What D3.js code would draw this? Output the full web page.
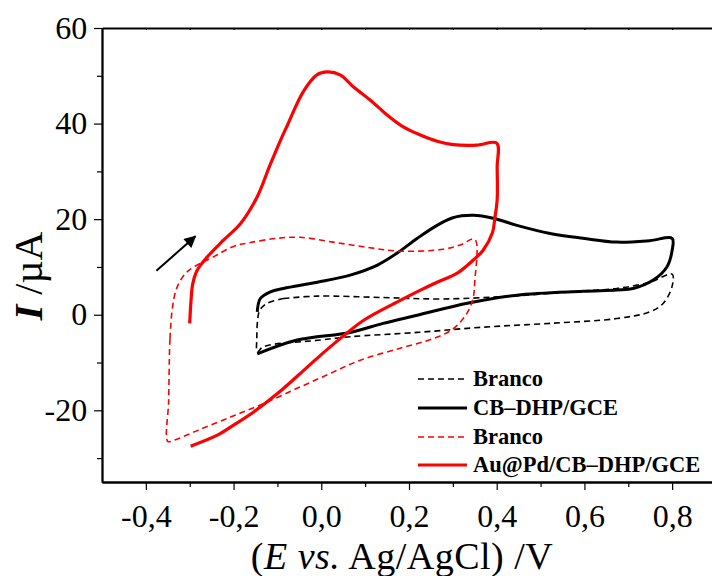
<!DOCTYPE html>
<html>
<head>
<meta charset="utf-8">
<script src="https://cdn.jsdelivr.net/npm/d3@7"></script>
<style>
  body { margin: 0; background: #fff; }
  svg { display: block; }
  text { font-family: "Liberation Serif", "Times New Roman", serif; }
</style>
</head>
<body>
<script>
// Dados (E em V, I em µA)
const brancoCB = [[-0.086,3.4],[-0.009,3.9],[0.141,3.6],[0.278,3.3],[0.45,4.0],[0.60,5.0],[0.674,5.5],[0.749,6.8],[0.80,8.5],
  [0.80,6.0],[0.78,2.4],[0.749,0.6],[0.674,-0.8],[0.522,-1.8],[0.369,-2.6],[0.219,-3.7],[0.066,-4.6],[-0.002,-5.3],
  [-0.132,-6.7],[-0.146,-7.8],[-0.147,-5],[-0.145,-1],[-0.14,1],[-0.123,2.4],[-0.086,3.4]];

const cbDHP = [[-0.146,0.6],[-0.139,3.4],[-0.116,4.8],[-0.086,5.5],[-0.009,6.8],[0.066,8.3],[0.128,10.4],[0.173,12.9],
  [0.219,16.0],[0.264,18.7],[0.30,20.3],[0.346,20.8],[0.392,20.2],[0.446,18.7],[0.522,17.0],[0.597,16.0],[0.674,15.2],[0.749,15.5],[0.80,16.0],
  [0.80,13.5],[0.788,10.0],[0.756,7.2],[0.711,5.5],[0.674,5.2],[0.597,4.9],[0.446,4.1],[0.333,2.4],[0.219,-0.1],
  [0.141,-1.8],[0.066,-3.7],[-0.055,-5.3],[-0.146,-8.2]];

const brancoAuPd = [[-0.345,-5],[-0.34,1],[-0.33,5.5],[-0.31,8.6],[-0.29,10],[-0.246,12.1],[-0.2,14.3],[-0.162,15.1],
  [-0.1,16],[-0.048,16.2],[0.027,15.2],[0.105,14.1],[0.18,13.3],[0.278,13.7],[0.317,14.6],[0.35,15.8],
  [0.35,7],[0.345,3],[0.33,0],[0.30,-3],[0.255,-5],[0.18,-7],[0.089,-9.5],[0.02,-12.3],[-0.055,-15.4],[-0.132,-18.6],
  [-0.207,-21.4],[-0.282,-24.2],[-0.337,-26.3],[-0.35,-26.5],[-0.348,-18],[-0.346,-7.4],[-0.345,-5]];

const auPd = [[-0.30,-1.8],[-0.297,3],[-0.293,6.5],[-0.283,9.3],[-0.26,12.1],[-0.223,15.6],[-0.184,19.1],[-0.146,24.7],
  [-0.117,31.3],[-0.093,36.5],[-0.078,39.5],[-0.041,46.7],[-0.01,50.2],[0.013,50.8],[0.043,50.2],[0.073,47.7],
  [0.112,44.9],[0.15,41.8],[0.187,39.3],[0.226,37.6],[0.264,36.3],[0.301,35.6],[0.355,35.5],[0.40,35.9],
  [0.401,30.9],[0.401,24],[0.396,20.4],[0.39,17.1],[0.369,13.5],[0.346,11.4],[0.31,8.7],[0.264,6.8],[0.225,5.1],
  [0.18,3.0],[0.096,-1.2],[0.043,-5],[-0.002,-8.5],[-0.048,-12.3],[-0.1,-16.5],[-0.155,-20.4],[-0.2,-23.1],
  [-0.237,-25.2],[-0.298,-27.5]];

const xTicks = [-0.4,-0.2,0.0,0.2,0.4,0.6,0.8];
const yTicks = [-20,0,20,40,60];
const legendNames = ["Branco","CB\u2013DHP/GCE","Branco","Au@Pd/CB\u2013DHP/GCE"];
const arrowPts = [[-0.376,9.2],[-0.287,16.4]];

const WIDTH = 712, HEIGHT = 576;
const L = 102, T = 28, R = 716, B = 482;

const svg = d3.select('body').append('svg')
  .attr('width', WIDTH).attr('height', HEIGHT);

const x = d3.scaleLinear().domain([-0.5, 0.9]).range([L, R]);
const y = d3.scaleLinear().domain([-35, 60]).range([B, T]);

const fmt = d => d3.format('.1f')(d).replace('.', ',').replace('\u2212', '-');

// eixos
const xAx = svg.append('g').attr('transform', `translate(0,${B})`)
  .call(d3.axisBottom(x).tickValues(xTicks).tickFormat(fmt).tickSize(8).tickSizeOuter(0));
const xMinor = svg.append('g').attr('transform', `translate(0,${B})`)
  .call(d3.axisBottom(x).tickValues(d3.range(-0.3, 0.9, 0.2)).tickFormat('').tickSize(5).tickSizeOuter(0));
const yAx = svg.append('g').attr('transform', `translate(${L},0)`)
  .call(d3.axisLeft(y).tickValues(yTicks).tickFormat(d => String(d)).tickSize(8).tickSizeOuter(0));
const yMinor = svg.append('g').attr('transform', `translate(${L},0)`)
  .call(d3.axisLeft(y).tickValues([-30,-10,10,30,50]).tickFormat('').tickSize(5).tickSizeOuter(0));
const xTop = svg.append('g').attr('transform', `translate(0,${T})`)
  .call(d3.axisTop(x).tickValues(d3.range(-0.4, 0.85, 0.1)).tickFormat('').tickSize(-2).tickSizeOuter(0));

[xAx, xMinor, yAx, yMinor, xTop].forEach(g => {
  g.attr('font-family', null);
  g.selectAll('.domain').attr('stroke', '#000').attr('stroke-width', 1.8);
  g.selectAll('.tick line').attr('stroke', '#000').attr('stroke-width', 1.2);
});
xAx.selectAll('text').attr('font-size', 32).attr('fill', '#000').attr('dy', '1.05em');
yAx.selectAll('text').attr('font-size', 32).attr('fill', '#000').attr('dx', '-0.12em');

// curvas
const line = d3.line().x(d => x(d[0])).y(d => y(d[1])).curve(d3.curveCatmullRom.alpha(0.5));
const series = [
  { data: brancoCB, color: '#000', w: 1.6, dash: '6,4' },
  { data: cbDHP, color: '#000', w: 3, dash: null },
  { data: brancoAuPd, color: '#ff0000', w: 1.6, dash: '6,4' },
  { data: auPd, color: '#ff0000', w: 3.2, dash: null }
];
svg.append('g').selectAll('path').data(series).join('path')
  .attr('d', d => line(d.data))
  .attr('fill', 'none')
  .attr('stroke', d => d.color)
  .attr('stroke-width', d => d.w)
  .attr('stroke-dasharray', d => d.dash);

// seta
svg.append('defs').append('marker')
  .attr('id', 'head').attr('viewBox', '0 0 10 10').attr('refX', 9).attr('refY', 5)
  .attr('markerWidth', 7).attr('markerHeight', 6).attr('markerUnits', 'strokeWidth')
  .attr('orient', 'auto')
  .append('path').attr('d', 'M0,0 L10,5 L0,10 z').attr('fill', '#000');
svg.append('line')
  .attr('x1', x(arrowPts[0][0])).attr('y1', y(arrowPts[0][1]))
  .attr('x2', x(arrowPts[1][0])).attr('y2', y(arrowPts[1][1]))
  .attr('stroke', '#000').attr('stroke-width', 2).attr('marker-end', 'url(#head)');

// legenda
const leg = svg.append('g');
const rowY = [379, 408, 437, 465];
series.forEach((s, i) => {
  leg.append('line').attr('x1', 418).attr('x2', 467).attr('y1', rowY[i]).attr('y2', rowY[i])
    .attr('stroke', s.color).attr('stroke-width', s.w).attr('stroke-dasharray', s.dash);
  leg.append('text').attr('x', 473).attr('y', rowY[i] + 7)
    .attr('font-size', 22.5).attr('font-weight', 'bold').text(legendNames[i]);
});

// títulos dos eixos
const xt = svg.append('text').attr('x', 402).attr('y', 569)
  .attr('text-anchor', 'middle').attr('font-size', 38).attr('letter-spacing', 0.5);
xt.append('tspan').text('(');
xt.append('tspan').attr('font-style', 'italic').text('E');
xt.append('tspan').attr('font-style', 'italic').text(' vs.');
xt.append('tspan').text(' Ag/AgCl) /V');

const yt = svg.append('text').attr('transform', 'translate(42,276) rotate(-90)')
  .attr('text-anchor', 'middle').attr('font-size', 40);
yt.append('tspan').attr('font-style', 'italic').attr('font-weight', 'bold').text('I');
yt.append('tspan').text(' /\u00b5A');
</script>
</body>
</html>
